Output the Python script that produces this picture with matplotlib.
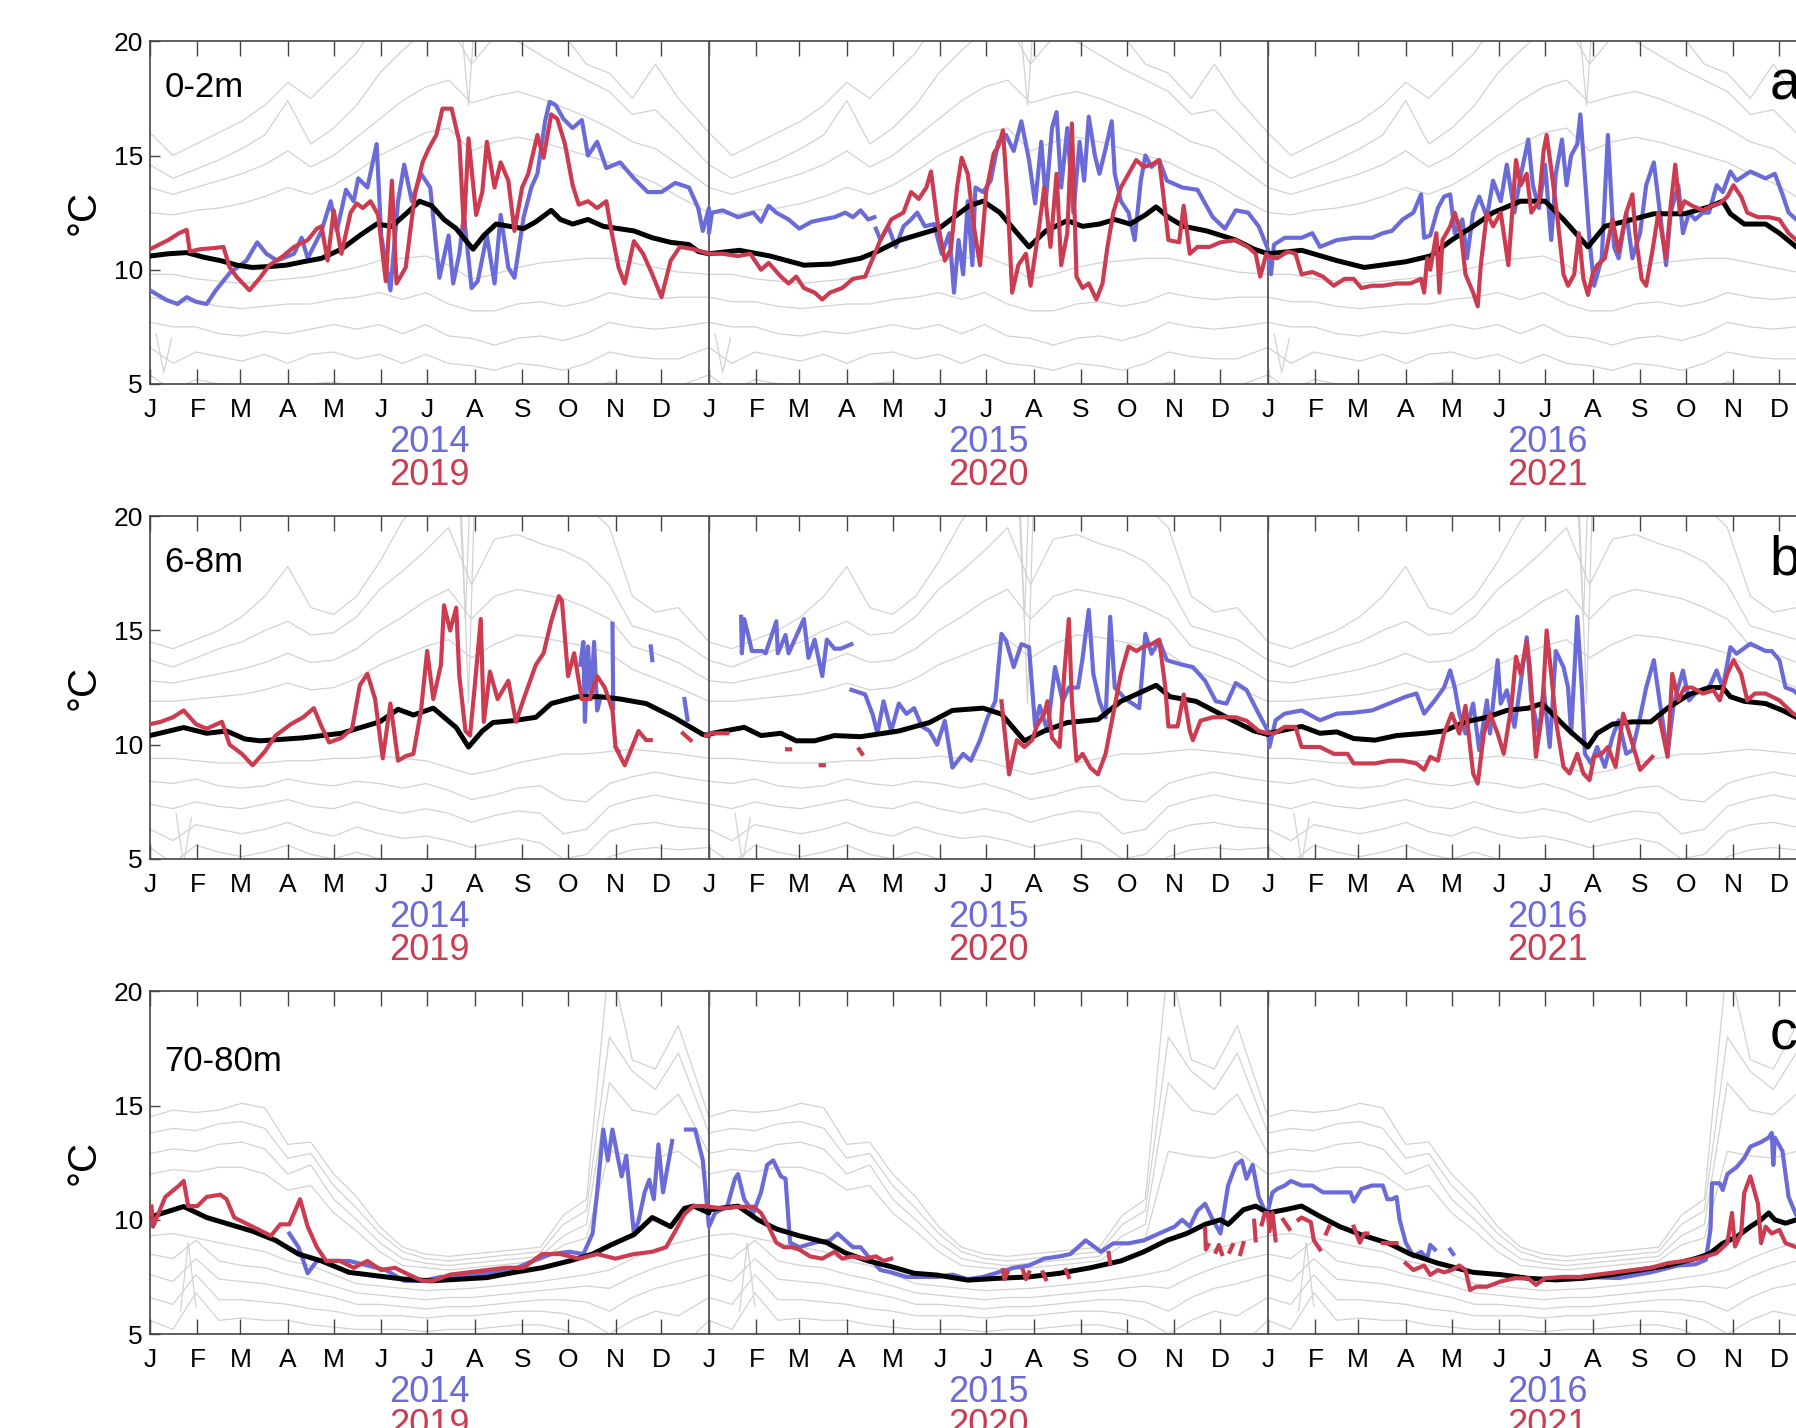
"""
Daily temperature at three depths, 2014-2016 (blue) and 2019-2021 (red)
against the climatological envelope (grey) and the mean (black).
"""

import numpy as np
import matplotlib
matplotlib.use('Agg')
from matplotlib import pyplot as plt

plt.rcParams['font.family'] = ['Liberation Sans', 'DejaVu Sans']

# ---------------------------------------------------------------- data
MONTH_START = [0, 31, 59, 90, 120, 151, 181, 212, 243, 273, 304, 334]
MONTH_LETTERS = ['J', 'F', 'M', 'A', 'M', 'J', 'J', 'A', 'S', 'O', 'N', 'D']
BLUE_YEARS = ['2014', '2015', '2016']
RED_YEARS = ['2019', '2020', '2021']
DEPTHS = ['0-2m', '6-8m', '70-80m']
PANEL_LETTERS = ['a', 'b', 'c']

# climatological envelope lines (same every year), sampled on GRAY_DAYS
GRAY_DAYS = [0, 15, 30, 45, 60, 75, 90, 105, 120, 135, 150, 165, 180, 195,
             210, 225, 240, 255, 270, 285, 300, 315, 330, 345, 365]

A_GRAY = [
    [16.0, 15.0, 15.5, 16.0, 16.5, 17.2, 18.2, 17.5, 18.5, 19.5, 21, 21, 21, 21,
     21, 21, 21, 21, 20.3, 19.0, 18.6, 17.5, 19.0, 17.5, 16.0],
    [14.6, 14.0, 14.4, 14.8, 15.3, 15.9, 17.4, 15.5, 16.2, 17.2, 18.6, 19.6, 20.5, 20.8,
     19.0, 20.2, 20.0, 19.4, 18.8, 18.3, 17.8, 16.8, 17.0, 16.0, 14.6],
    [13.6, 13.3, 13.6, 13.9, 14.2, 14.6, 15.2, 14.5, 15.0, 15.8, 16.6, 17.4, 18.0, 18.3,
     17.3, 17.6, 17.8, 17.5, 17.1, 16.7, 16.2, 15.6, 15.3, 14.6, 13.6],
    [12.5, 12.4, 12.6, 12.7, 12.9, 13.2, 13.6, 13.3, 13.7, 14.3, 15.0, 15.5, 16.0, 16.2,
     15.2, 15.6, 15.8, 15.6, 15.3, 15.0, 14.7, 14.2, 13.8, 13.2, 12.5],
    [9.8, 9.8, 9.6, 9.5, 9.4, 9.5, 9.6, 9.7, 9.9, 10.1, 10.4, 10.5, 10.6, 10.2,
     9.6, 9.8, 10.1, 10.3, 10.4, 10.5, 10.5, 10.3, 10.1, 9.9, 9.8],
    [8.8, 8.6, 8.6, 8.4, 8.3, 8.4, 8.5, 8.5, 8.7, 8.8, 9.0, 8.7, 9.0, 8.5,
     8.2, 8.2, 8.5, 8.6, 8.4, 8.6, 9.0, 8.8, 8.7, 8.8, 8.8],
    [7.7, 7.5, 7.5, 7.2, 7.1, 7.3, 7.2, 7.4, 7.6, 7.4, 7.6, 7.2, 7.6, 7.1,
     7.0, 6.7, 7.0, 7.1, 6.9, 7.2, 7.7, 7.5, 7.4, 7.5, 7.7],
    [6.6, 5.9, 6.4, 6.2, 6.0, 6.3, 5.9, 6.3, 6.4, 6.1, 6.3, 5.9, 6.3, 5.9,
     5.8, 5.6, 5.9, 5.8, 5.6, 5.9, 6.4, 6.2, 6.1, 6.1, 6.6],
    [5.4, 4.7, 5.2, 5.0, 4.8, 5.0, 4.6, 5.0, 5.1, 4.8, 4.9, 4.5, 4.9, 4.6,
     4.5, 4.2, 4.5, 4.4, 4.3, 4.6, 5.1, 4.9, 4.8, 4.9, 5.4],
]
A_SPIKES = [[(203, 21), (208, 17.2), (212, 21)], [(4, 7.2), (9, 5.5), (14, 7.0)]]

B_GRAY = [
    [14.5, 14.2, 14.6, 15.0, 15.6, 16.5, 17.8, 16.0, 15.7, 16.5, 18.0, 19.8, 21, 21,
     21, 21, 21, 21, 21, 20.5, 19.5, 16.5, 15.8, 16.0, 14.5],
    [13.7, 13.4, 13.8, 14.2, 14.5, 15.0, 15.4, 14.8, 14.9, 15.6, 16.8, 17.6, 18.5, 19.5,
     17.0, 19.0, 19.2, 18.8, 18.5, 18.0, 17.0, 15.2, 14.9, 14.6, 13.7],
    [12.8, 12.7, 12.9, 13.1, 13.3, 13.6, 14.0, 13.6, 13.7, 14.2, 15.0, 15.6, 16.3, 16.8,
     15.5, 16.5, 16.8, 16.6, 16.4, 16.0, 15.5, 14.3, 14.0, 13.6, 12.8],
    [11.9, 11.9, 12.0, 12.1, 12.2, 12.4, 12.7, 12.4, 12.5, 12.9, 13.5, 13.9, 14.3, 14.6,
     13.8, 14.4, 14.8, 14.7, 14.5, 14.3, 14.0, 13.3, 12.9, 12.5, 11.9],
    [9.4, 9.4, 9.3, 9.2, 9.2, 9.2, 9.3, 9.3, 9.4, 9.4, 9.5, 9.4, 9.3, 9.0,
     8.7, 8.9, 9.2, 9.4, 9.6, 9.6, 9.7, 9.8, 9.7, 9.6, 9.4],
    [8.4, 8.3, 8.5, 8.2, 8.1, 8.2, 8.5, 8.3, 8.2, 8.4, 8.3, 8.1, 8.3, 8.0,
     7.6, 7.8, 8.1, 8.2, 7.6, 7.5, 8.3, 8.6, 8.8, 8.6, 8.4],
    [7.4, 7.2, 7.5, 7.3, 7.2, 7.4, 7.6, 7.3, 7.2, 7.5, 7.2, 7.0, 7.2, 7.0,
     6.6, 6.9, 7.1, 7.0, 6.1, 6.3, 7.3, 7.6, 7.8, 7.6, 7.4],
    [6.3, 5.8, 6.5, 6.3, 6.1, 6.3, 6.6, 6.2, 6.0, 6.4, 6.1, 5.9, 6.0, 5.8,
     5.5, 5.7, 5.9, 5.7, 5.0, 5.2, 6.2, 6.5, 6.6, 6.4, 6.3],
    [5.5, 4.8, 5.6, 5.3, 5.1, 5.3, 5.6, 5.2, 5.0, 5.3, 5.0, 4.8, 4.9, 4.7,
     4.5, 4.6, 4.8, 4.6, 4.2, 4.3, 5.1, 5.4, 5.5, 5.4, 5.5],
]
B_SPIKES = [[(203, 21), (208, 11.8), (212, 21)], [(202, 21), (206, 15.5), (209, 21)],
            [(17, 7.0), (22, 4.8), (27, 6.8)]]

C_GRAY = [
    [14.5, 14.8, 14.7, 14.8, 15.1, 14.9, 13.3, 13.4, 12.0, 11.0, 9.7, 8.8, 8.5, 8.4,
     8.5, 8.6, 8.7, 8.8, 10.2, 10.9, 21.5, 17.0, 16.6, 18.5, 14.5],
    [13.8, 14.0, 13.9, 14.2, 14.3, 14.0, 12.7, 12.9, 11.5, 10.5, 9.4, 8.6, 8.3, 8.2,
     8.3, 8.4, 8.5, 8.6, 9.8, 10.4, 18.0, 16.5, 15.7, 17.3, 13.8],
    [12.9, 13.1, 13.0, 13.3, 13.4, 13.1, 12.0, 12.4, 10.9, 10.0, 9.0, 8.3, 8.1, 8.0,
     8.1, 8.2, 8.3, 8.4, 9.3, 9.8, 16.0, 14.8, 14.6, 15.5, 12.9],
    [12.0, 12.2, 12.1, 12.3, 12.3, 12.0, 11.3, 11.5, 10.3, 9.5, 8.6, 8.0, 7.9, 7.8,
     7.9, 8.0, 8.1, 8.2, 8.9, 9.2, 13.0, 12.8, 12.7, 13.0, 12.0],
    [9.3, 9.4, 9.2, 9.0, 8.8, 8.6, 8.2, 8.0, 7.6, 7.2, 7.1, 7.0, 6.9, 6.95,
     7.0, 7.1, 7.2, 7.3, 7.45, 7.6, 7.8, 8.3, 8.7, 9.0, 9.3],
    [8.5, 8.3, 9.1, 8.2, 8.0, 7.9, 7.6, 7.4, 7.1, 6.8, 6.7, 6.6, 6.5, 6.6,
     6.6, 6.7, 6.8, 6.9, 7.0, 7.1, 7.0, 7.5, 7.9, 8.2, 8.5],
    [7.6, 7.3, 8.3, 7.4, 7.3, 7.2, 7.0, 6.8, 6.6, 6.3, 6.3, 6.2, 6.1, 6.2,
     6.2, 6.3, 6.4, 6.5, 6.5, 6.4, 6.0, 6.6, 7.0, 7.2, 7.6],
    [6.6, 6.3, 7.6, 6.5, 6.5, 6.4, 6.3, 6.1, 6.0, 5.8, 5.8, 5.8, 5.7, 5.8,
     5.8, 5.9, 6.0, 6.0, 5.9, 5.6, 5.0, 5.6, 6.0, 5.8, 6.6],
    [5.6, 5.2, 6.8, 5.6, 5.7, 5.6, 5.6, 5.4, 5.3, 5.2, 5.2, 5.2, 5.1, 5.2,
     5.2, 5.3, 5.4, 5.4, 5.2, 4.8, 4.2, 4.6, 4.8, 4.3, 5.6],
]
C_SPIKES = [[(20, 6.0), (25, 9.0), (30, 6.2)]]

# observed series: (day of year, degC); None marks a gap in the record
# --- 0-2 m
A_BLUE_2014 = [(0, 9.1), (5, 8.9), (11, 8.67), (18, 8.5), (24, 8.8), (30, 8.6), (37, 8.5),
               (43, 9.1), (52, 9.85), (63, 10.4), (70, 11.2), (76, 10.7), (83, 10.4),
               (94, 10.7), (99, 11.4), (103, 10.5), (112, 11.7), (118, 13.0), (122, 11.7),
               (128, 13.5), (133, 13.0), (136, 14.0), (142, 13.6), (148, 15.5), (151, 11.5),
               (157, 9.1), (162, 13.0), (166, 14.6), (171, 13.0), (177, 14.2), (183, 13.6),
               (189, 9.65), (195, 11.5), (198, 9.4), (202, 10.7), (205, 12.4), (210, 9.2),
               (214, 9.5), (220, 11.5), (225, 9.4), (229, 12.4), (234, 10.1), (238, 9.65),
               (244, 12.3), (249, 13.6), (253, 14.2), (258, 16.5), (261, 17.35), (265, 17.2),
               (270, 16.6), (276, 16.2), (282, 16.55), (286, 15.0), (292, 15.6), (298, 14.45),
               (307, 14.7), (316, 14.0), (325, 13.4), (334, 13.4), (343, 13.8), (352, 13.6),
               (358, 12.7), (361, 11.7), (365, 12.7)]
A_BLUE_2015 = [(0, 11.6), (2, 12.5), (9, 12.6), (19, 12.3), (29, 12.5), (34, 12.1), (39, 12.8),
               (44, 12.5), (52, 12.2), (59, 11.8), (67, 12.1), (74, 12.2), (82, 12.3),
               (89, 12.5), (94, 12.3), (99, 12.6), (104, 12.2), (108, 12.3), None,
               (109, 11.8), (112, 11.3), (117, 11.9), (122, 11.0), (127, 11.9), (132, 12.2),
               (136, 12.5), (141, 11.9), (147, 12.0), (152, 10.7), (157, 11.6), (160, 9.0),
               (163, 11.3), (166, 9.8), (169, 13.0), (172, 10.2), (174, 13.6), (179, 13.4),
               (184, 13.9), (189, 15.6), (194, 15.9), (199, 15.2), (204, 16.5), (209, 14.8),
               (213, 12.9), (217, 15.6), (220, 13.0), (224, 16.2), (227, 16.9), (230, 13.6),
               (234, 16.2), (238, 12.5), (242, 15.6), (245, 13.9), (248, 16.7), (252, 15.0),
               (255, 14.2), (259, 15.3), (263, 16.5), (265, 14.2), (269, 13.0), (274, 12.5),
               (278, 11.3), (282, 13.9), (285, 15.0), (289, 14.5), (294, 14.8), (299, 13.9),
               (309, 13.6), (319, 13.5), (329, 12.3), (337, 11.8), (344, 12.6), (352, 12.5),
               (359, 11.9), (365, 10.9)]
A_BLUE_2016 = [(2, 9.8), (4, 11.1), (11, 11.4), (22, 11.4), (29, 11.6), (34, 11.0), (45, 11.3),
               (56, 11.4), (68, 11.4), (75, 11.6), (81, 11.7), (88, 12.2), (95, 12.5),
               (100, 13.3), (102, 11.4), (106, 11.5), (111, 12.7), (115, 13.2), (119, 13.3),
               (122, 11.6), (127, 12.2), (130, 10.5), (134, 12.5), (138, 13.2), (143, 12.3),
               (147, 13.9), (152, 13.0), (156, 14.6), (161, 12.5), (165, 14.1), (170, 15.7),
               (173, 13.7), (177, 12.7), (181, 14.6), (185, 11.3), (188, 14.2), (192, 15.7),
               (195, 13.7), (198, 15.0), (202, 15.5), (204, 16.8), (206, 15.0), (210, 11.3),
               (213, 9.3), (218, 10.5), (222, 15.9), (226, 11.0), (229, 10.5), (234, 12.5),
               (238, 10.5), (243, 11.6), (247, 13.7), (252, 14.7), (256, 12.5), (260, 10.2),
               (263, 12.5), (268, 13.7), (271, 11.6), (275, 12.5), (279, 12.2), (284, 12.5),
               (288, 12.5), (293, 13.7), (297, 13.4), (302, 14.3), (306, 13.9), (315, 14.3),
               (325, 14.0), (331, 14.2), (336, 13.3), (340, 12.5), (345, 12.2), (365, 12.0)]
A_RED_2019 = [(0, 10.9), (6, 11.1), (12, 11.3), (19, 11.6), (24, 11.75), (26, 10.8), (33, 10.9),
              (42, 10.95), (48, 11.0), (52, 10.1), (57, 9.66), (65, 9.1), (72, 9.66),
              (78, 10.2), (87, 10.6), (94, 11.0), (103, 11.3), (109, 11.8), (112, 11.9),
              (116, 10.4), (120, 12.6), (125, 10.7), (131, 12.5), (135, 12.9), (139, 12.7),
              (144, 13.0), (149, 12.4), (154, 9.5), (158, 13.9), (161, 9.4), (167, 10.1),
              (173, 13.3), (178, 14.7), (182, 15.3), (187, 15.9), (191, 17.05), (197, 17.05),
              (202, 15.6), (205, 11.8), (208, 15.75), (213, 12.4), (217, 13.4), (220, 15.6),
              (225, 13.6), (229, 14.7), (234, 13.9), (238, 11.7), (243, 13.6), (247, 14.2),
              (253, 15.9), (257, 14.9), (262, 16.8), (266, 16.6), (271, 15.5), (276, 13.7),
              (280, 12.85), (286, 13.0), (292, 12.7), (298, 13.0), (301, 11.8), (306, 10.1),
              (310, 9.4), (316, 11.25), (322, 10.7), (328, 9.8), (334, 8.8), (340, 10.4),
              (346, 11.0), (355, 10.9), (365, 10.7)]
A_RED_2020 = [(0, 10.7), (9, 10.7), (19, 10.6), (27, 10.7), (34, 10.0), (39, 10.3), (47, 9.7),
              (52, 9.4), (57, 9.7), (62, 9.2), (69, 9.0), (74, 8.7), (79, 9.0), (87, 9.2),
              (94, 9.6), (102, 9.7), (107, 10.5), (112, 11.3), (119, 12.2), (127, 12.5),
              (132, 13.4), (137, 13.1), (142, 13.6), (145, 14.3), (149, 12.2), (154, 10.4),
              (158, 10.9), (162, 13.6), (165, 14.9), (169, 14.2), (173, 11.9), (177, 10.2),
              (181, 13.4), (186, 15.1), (189, 15.4), (192, 16.1), (195, 13.1), (198, 9.0),
              (202, 10.2), (207, 10.7), (210, 9.3), (215, 11.6), (219, 13.6), (223, 11.0),
              (227, 14.2), (230, 10.2), (234, 11.6), (237, 16.4), (240, 9.7), (244, 9.2),
              (248, 9.4), (253, 8.7), (257, 9.4), (260, 10.9), (264, 12.5), (269, 13.6),
              (274, 14.2), (279, 14.8), (284, 14.5), (289, 14.6), (294, 14.8), (297, 13.1),
              (300, 11.3), (307, 11.2), (310, 12.8), (314, 10.7), (319, 11.0), (327, 11.0),
              (334, 11.2), (344, 11.3), (352, 11.0), (357, 10.7), (360, 9.7), (364, 10.7),
              (365, 10.6)]
A_RED_2021 = [(0, 10.6), (6, 10.5), (13, 10.8), (18, 10.7), (22, 9.8), (29, 9.9), (36, 9.7),
              (43, 9.3), (50, 9.6), (56, 9.6), (61, 9.2), (68, 9.3), (75, 9.3), (84, 9.4),
              (93, 9.4), (100, 9.6), (102, 9.0), (104, 10.5), (106, 10.0), (110, 11.6),
              (112, 9.0), (114, 11.3), (119, 11.9), (122, 12.5), (126, 11.6), (129, 9.8),
              (134, 9.0), (137, 8.4), (139, 10.2), (143, 12.5), (147, 11.9), (152, 12.5),
              (157, 10.2), (162, 14.8), (165, 13.7), (169, 14.2), (172, 12.5), (177, 13.0),
              (180, 15.2), (182, 15.9), (186, 13.9), (189, 12.3), (193, 9.8), (196, 9.3),
              (200, 9.8), (203, 11.6), (206, 9.6), (209, 8.9), (212, 9.8), (215, 10.2),
              (220, 10.5), (225, 12.2), (229, 10.8), (234, 12.5), (238, 13.3), (240, 11.6),
              (244, 9.6), (247, 9.3), (251, 10.8), (255, 12.5), (260, 10.5), (263, 12.8),
              (266, 14.6), (269, 12.5), (272, 13.0), (277, 12.8), (284, 12.6), (290, 12.8),
              (295, 12.9), (300, 13.2), (304, 13.7), (309, 13.2), (313, 12.5), (320, 12.3),
              (327, 12.3), (334, 12.2), (340, 11.6), (345, 11.3), (365, 11.0)]
A_MEAN_1 = [(0, 10.6), (12, 10.7), (24, 10.75), (35, 10.55), (46, 10.4), (57, 10.2), (67, 10.1),
            (80, 10.15), (89, 10.2), (100, 10.35), (112, 10.5), (125, 10.9), (137, 11.5),
            (148, 12.0), (158, 11.9), (168, 12.5), (176, 13.0), (184, 12.8), (192, 12.2),
            (200, 11.8), (206, 11.3), (211, 10.9), (218, 11.5), (226, 12.0), (235, 11.9),
            (244, 11.8), (252, 12.1), (262, 12.6), (268, 12.2), (276, 12.0), (286, 12.2),
            (296, 11.9), (306, 11.8), (316, 11.7), (328, 11.4), (340, 11.2), (352, 11.1),
            (358, 10.8), (365, 10.7)]
A_MEAN_2 = [(0, 10.7), (20, 10.85), (40, 10.6), (62, 10.2), (80, 10.25), (99, 10.5),
            (110, 10.8), (125, 11.3), (140, 11.6), (150, 11.8), (160, 12.3), (170, 12.8),
            (179, 13.0), (190, 12.5), (200, 11.7), (209, 11.0), (220, 11.7), (234, 12.15),
            (244, 11.9), (255, 12.0), (265, 12.2), (275, 12.0), (285, 12.4), (292, 12.75),
            (300, 12.3), (310, 11.9), (325, 11.7), (344, 11.3), (356, 10.9), (365, 10.7)]
A_MEAN_3 = [(0, 10.7), (22, 10.85), (45, 10.4), (63, 10.1), (90, 10.35), (106, 10.6),
            (120, 11.3), (134, 11.9), (147, 12.5), (165, 13.0), (181, 13.0), (193, 12.2),
            (209, 11.0), (220, 11.9), (238, 12.2), (252, 12.45), (272, 12.45), (288, 12.75),
            (297, 13.0), (302, 12.45), (311, 12.0), (325, 12.0), (334, 11.6), (345, 11.0),
            (365, 10.6)]

# --- 6-8 m
B_BLUE_2014 = [(281, 13.5), (283, 14.5), (284, 11.0), (286, 14.3), (288, 12.0), (290, 14.5),
               (292, 11.5), (294, 12.0), None, (302, 15.3), (302.5, 11.6), None,
               (304, 9.9), (306, 9.7), None, (327, 14.3), (328, 13.7), None,
               (349, 12.0), (351, 11.1), None]
B_BLUE_2015 = [None, (21, 15.6), (21.5, 14.0), (23, 15.5), (26, 14.7), (28, 14.1), (35, 14.1),
               (37, 14.0), (44, 15.4), (45, 14.0), (50, 14.8), (52, 14.0), (62, 15.5),
               (65, 13.8), (69, 14.6), (74, 13.0), (77, 14.6), (82, 14.2), (86, 14.2),
               (93, 14.4), None,
               (93, 12.4), (102, 12.2), (107, 11.3), (110, 10.5), (114, 11.9), (119, 10.6),
               (124, 11.8), (129, 11.35), (134, 11.6), (139, 10.8), (144, 10.6), (149, 10.0),
               (154, 11.05), (159, 9.0), (166, 9.6), (171, 9.3), (177, 10.2), (182, 11.2),
               (187, 11.9), (191, 14.85), (194, 14.56), (199, 13.4), (204, 14.4), (209, 14.27),
               (213, 10.8), (216, 11.7), (221, 10.6), (226, 13.4), (231, 11.9), (235, 12.5),
               (241, 12.5), (244, 13.8), (248, 15.9), (251, 13.1), (255, 11.9), (259, 11.2),
               (262, 15.6), (265, 12.5), (272, 12.0), (281, 11.6), (285, 14.85), (289, 13.98),
               (294, 14.56), (299, 13.7), (309, 13.5), (316, 13.4), (324, 12.8), (331, 11.9),
               (338, 11.8), (344, 12.7), (351, 12.4), (359, 11.35), (365, 10.6)]
B_BLUE_2016 = [(1, 9.9), (5, 11.07), (11, 11.36), (22, 11.5), (34, 11.07), (45, 11.36),
               (56, 11.4), (68, 11.5), (79, 11.8), (90, 12.1), (97, 12.24), (102, 11.36),
               (109, 11.94), (115, 12.5), (119, 13.25), (122, 12.5), (125, 11.36),
               (129, 10.49), (134, 11.8), (138, 9.76), (143, 11.94), (145, 10.49), (150, 13.7),
               (152, 11.8), (156, 12.38), (161, 10.78), (165, 12.67), (169, 14.7), (172, 11.94),
               (177, 10.49), (180, 12.5), (184, 9.9), (188, 14.1), (193, 13.4), (196, 12.5),
               (198, 10.49), (202, 15.6), (205, 12.5), (207, 9.6), (211, 9.18), (215, 9.9),
               (220, 9.03), (225, 10.34), (229, 11.07), (234, 9.6), (238, 9.76), (243, 11.2),
               (247, 12.5), (252, 13.7), (256, 11.8), (261, 9.6), (265, 11.8), (271, 13.25),
               (275, 11.94), (279, 12.24), (284, 12.38), (288, 12.5), (293, 13.25),
               (297, 12.5), (302, 14.27), (306, 13.98), (315, 14.42), (325, 14.1),
               (329, 14.1), (334, 13.7), (338, 12.5), (343, 12.38), (350, 12.0), (365, 11.2)]
B_RED_2019 = [(0, 10.9), (7, 11.0), (15, 11.2), (22, 11.5), (30, 10.9), (37, 10.7), (47, 11.0),
              (52, 10.0), (60, 9.6), (67, 9.1), (75, 9.7), (82, 10.4), (92, 10.9), (100, 11.2),
              (107, 11.6), (112, 10.8), (117, 10.1), (125, 10.3), (132, 10.7), (137, 12.6),
              (142, 13.1), (147, 12.0), (152, 9.4), (157, 11.8), (162, 9.3), (167, 9.5),
              (172, 9.6), (177, 11.5), (181, 14.1), (185, 12.0), (190, 13.5), (192, 16.1),
              (196, 15.0), (200, 16.0), (202, 13.0), (206, 10.6), (209, 10.4), (212, 12.5),
              (216, 15.5), (218, 11.0), (222, 13.2), (227, 12.0), (234, 12.8), (239, 11.0),
              (244, 12.0), (252, 13.5), (257, 14.0), (262, 15.4), (267, 16.5), (269, 16.3),
              (273, 13.0), (277, 14.0), (282, 12.0), (287, 12.0), (292, 13.0), (297, 12.5),
              (302, 11.5), (304, 9.9), (310, 9.1), (319, 10.6), (324, 10.2), (327, 10.2),
              None, (348, 10.5), (353, 10.2), None, (363, 10.4), (365, 10.4)]
B_RED_2020 = [(0, 10.5), (12, 10.5), None, (51, 9.8), (53, 9.8), None, (73, 9.1), (75, 9.1),
              None, (98, 9.8), (100, 9.6), None,
              (191, 11.9), (196, 8.7), (201, 10.2), (206, 9.9), (211, 10.2), (214, 10.8),
              (219, 11.35), (221, 11.9), (224, 10.3), (229, 9.9), (232, 13.1), (235, 15.5),
              (237, 11.9), (240, 9.3), (244, 9.6), (249, 9.0), (254, 8.7), (259, 9.6),
              (264, 11.35), (269, 13.1), (274, 14.3), (279, 14.1), (284, 14.3), (289, 14.4),
              (294, 14.6), (298, 12.5), (300, 10.8), (306, 10.8), (310, 12.2), (314, 10.6),
              (316, 10.2), (321, 11.05), (329, 11.2), (336, 11.2), (344, 11.2), (351, 11.05),
              (359, 10.6), (365, 10.5)]
B_RED_2021 = [(0, 10.5), (4, 10.49), (11, 10.78), (18, 10.78), (22, 9.9), (29, 9.9), (34, 9.9),
              (43, 9.6), (52, 9.6), (56, 9.18), (63, 9.18), (70, 9.18), (79, 9.3), (88, 9.3),
              (97, 9.18), (102, 8.9), (106, 9.47), (111, 9.3), (115, 10.49), (120, 11.36),
              (125, 10.49), (129, 11.7), (134, 8.74), (137, 8.3), (141, 10.49), (145, 11.36),
              (150, 10.49), (154, 9.6), (159, 11.7), (162, 13.85), (165, 13.1), (169, 14.5),
              (171, 13.4), (175, 9.47), (179, 11.36), (182, 15.0), (185, 13.1), (188, 11.07),
              (193, 9.03), (197, 8.74), (202, 9.6), (206, 8.74), (210, 8.45), (213, 9.47),
              (218, 9.6), (222, 9.9), (227, 9.03), (232, 11.36), (236, 10.49), (240, 9.6),
              (243, 8.9), (247, 9.18), (251, 9.47), None, (256, 11.07), (261, 9.47),
              (264, 13.1), (268, 11.94), (272, 12.5), (277, 12.5), (284, 12.24), (291, 12.38),
              (295, 11.94), (300, 13.1), (304, 13.7), (309, 13.1), (313, 11.94), (318, 12.24),
              (325, 12.24), (334, 11.94), (343, 11.36), (355, 11.0), (365, 10.8)]
B_MEAN_1 = [(0, 10.4), (22, 10.75), (37, 10.5), (50, 10.6), (62, 10.25), (72, 10.17),
            (100, 10.3), (125, 10.5), (150, 11.0), (162, 11.55), (172, 11.3), (185, 11.6),
            (200, 10.75), (208, 9.9), (217, 10.6), (224, 10.97), (237, 11.05), (252, 11.2),
            (262, 11.8), (279, 12.1), (294, 12.1), (307, 12.0), (324, 11.8), (342, 11.2),
            (361, 10.45), (365, 10.4)]
B_MEAN_2 = [(0, 10.47), (23, 10.76), (34, 10.4), (47, 10.5), (57, 10.17), (69, 10.17),
            (82, 10.4), (99, 10.35), (124, 10.6), (144, 10.97), (159, 11.5), (179, 11.6),
            (191, 11.34), (206, 10.17), (219, 10.6), (234, 10.97), (254, 11.1), (269, 11.9),
            (292, 12.6), (301, 12.1), (318, 11.9), (338, 11.2), (356, 10.6), (365, 10.45)]
B_MEAN_3 = [(0, 10.49), (22, 10.8), (34, 10.5), (45, 10.56), (56, 10.27), (70, 10.2),
            (84, 10.4), (102, 10.5), (115, 10.6), (129, 11.0), (143, 11.2), (156, 11.5),
            (170, 11.6), (179, 11.8), (188, 11.2), (197, 10.6), (209, 9.9), (215, 10.5),
            (225, 10.9), (238, 11.0), (250, 11.0), (261, 11.6), (275, 12.2), (288, 12.5),
            (297, 12.5), (302, 12.1), (311, 11.9), (325, 11.8), (336, 11.5), (345, 11.2),
            (365, 10.6)]

# --- 70-80 m
C_BLUE_2014 = [(91, 9.4), (97, 8.8), (103, 7.66), (109, 8.2), (118, 8.2), (130, 8.2),
               (142, 8.0), (154, 7.8), (166, 7.33), (178, 7.33), (190, 7.5), (202, 7.5),
               (214, 7.6), (226, 7.7), (238, 7.85), (250, 8.2), (262, 8.5), (274, 8.6),
               (283, 8.5), (289, 9.4), (292, 11.2), (296, 13.95), (299, 12.6), (302, 13.95),
               (305, 12.9), (308, 11.9), (311, 12.8), (316, 9.4), (319, 9.95), (323, 11.2),
               (326, 11.75), (329, 10.9), (332, 13.3), (335, 11.2), (341, 13.45), None,
               (350, 13.95), (356, 13.95), (361, 12.6), (365, 9.7)]
C_BLUE_2015 = [(0, 9.7), (4, 10.3), (12, 10.6), (17, 11.8), (19, 12.0), (23, 10.9), (29, 10.3),
               (34, 11.2), (38, 12.4), (42, 12.6), (47, 11.9), (50, 11.8), (53, 9.0),
               (59, 8.8), (69, 9.0), (79, 9.1), (84, 9.4), (89, 9.1), (94, 8.8), (99, 8.8),
               (104, 8.4), (112, 7.8), (119, 7.7), (129, 7.5), (139, 7.5), (149, 7.5),
               (159, 7.6), (169, 7.4), (179, 7.5), (189, 7.7), (199, 7.9), (209, 8.0),
               (219, 8.3), (229, 8.4), (236, 8.5), (241, 8.8), (246, 9.1), (252, 8.8),
               (256, 8.6), (264, 8.97), (274, 8.97), (284, 9.1), (294, 9.4), (304, 9.7),
               (309, 10.0), (314, 9.7), (319, 10.4), (324, 10.7), (329, 10.0), (334, 9.4),
               (339, 11.5), (344, 12.4), (348, 12.6), (351, 11.8), (355, 12.4), (359, 11.0),
               (363, 10.4), (365, 10.4)]
C_BLUE_2016 = [(0, 10.4), (3, 11.2), (6, 11.35), (11, 11.5), (15, 11.7), (22, 11.5), (29, 11.5),
               (36, 11.2), (45, 11.2), (54, 11.2), (56, 10.8), (61, 11.35), (68, 11.5),
               (75, 11.5), (78, 10.9), (81, 10.9), (84, 11.0), (86, 10.0), (90, 9.0), (95, 8.4),
               (100, 8.6), (104, 8.3), (106, 8.9), (109, 8.7), None, (119, 8.7), (121, 8.5),
               None, (206, 7.5), (229, 7.45), (250, 7.7), (268, 8.0), (279, 8.05),
               (286, 8.25), (289, 9.6), (290, 11.6), (295, 11.6), (297, 11.3), (300, 12.0),
               (306, 12.3), (311, 12.7), (315, 13.2), (322, 13.4), (327, 13.6), (329, 13.8),
               (330, 12.4), (331, 13.6), (336, 13.0), (340, 11.0), (345, 10.2), (365, 10.0)]
C_RED_2019 = [(1, 10.58), (2, 9.7), (10, 11.0), (19, 11.5), (22, 11.7), (25, 10.6), (31, 10.6),
              (37, 11.0), (46, 11.1), (50, 10.9), (55, 10.1), (64, 9.8), (73, 9.5), (79, 9.3),
              (85, 9.8), (91, 9.8), (98, 10.9), (103, 9.7), (109, 8.8), (115, 8.2),
              (124, 8.2), (133, 7.9), (142, 8.2), (151, 7.8), (160, 7.9), (169, 7.6),
              (178, 7.33), (185, 7.33), (196, 7.6), (208, 7.7), (220, 7.8), (232, 7.9),
              (244, 7.9), (256, 8.5), (268, 8.5), (280, 8.3), (292, 8.5), (304, 8.3),
              (316, 8.5), (328, 8.6), (337, 8.8), (343, 9.5), (349, 10.25), (355, 10.6),
              (365, 10.6)]
C_RED_2020 = [(0, 10.57), (9, 10.5), (19, 10.57), (29, 10.57), (34, 10.3), (39, 9.7),
              (44, 9.0), (49, 8.8), (54, 8.8), (59, 8.7), (66, 8.4), (74, 8.3), (82, 8.6),
              (87, 8.3), (94, 8.4), (102, 8.3), (109, 8.4), (114, 8.2), (119, 8.3), None,
              (192, 7.8), (193, 7.4), (195, 7.7), None, (205, 7.8), (207, 7.4), (209, 7.7),
              None, (218, 7.7), (220, 7.4), None, (233, 7.8), (235, 7.5), None,
              (261, 8.55), (262, 8.1), None, (324, 9.6), (324.5, 8.7), (326, 8.9), None,
              (331, 8.6), (333, 8.9), (335, 8.5), None, (340, 8.6), (342, 8.9), None,
              (347, 8.5), (349, 8.98), None, (356, 9.96), (357, 9.1), None,
              (361, 9.8), (363, 10.3), (365, 10.3)]
C_RED_2021 = [(0, 10.3), (1, 9.5), (3, 10.3), (5, 9.1), None, (10, 10.0), (14, 9.6), None,
              (20, 10.0), (22, 10.1), (28, 9.9), (30, 9.1), (34, 8.7), None, (38, 9.4),
              (40, 9.7), None, (56, 9.7), (60, 9.0), (63, 9.4), (65, 9.4), None,
              (75, 8.98), (84, 8.98), None, (90, 8.1), (95, 7.8), (102, 8.0), (106, 7.59),
              (111, 7.8), (115, 7.7), (120, 7.8), (125, 8.0), (129, 7.8), (132, 6.93),
              (136, 7.07), (143, 7.07), (152, 7.3), (161, 7.44), (170, 7.44), (175, 7.15),
              (181, 7.44), (193, 7.5), (204, 7.5), (215, 7.6), (227, 7.7), (238, 7.8),
              (250, 7.9), (261, 8.1), (272, 8.2), (284, 8.35), (293, 8.54), (300, 8.98),
              (303, 10.3), (305, 8.83), (309, 9.4), (311, 11.17), (315, 11.9), (318, 11.17),
              (320, 10.7), (322, 8.98), (325, 9.7), (329, 9.4), (334, 9.56), (338, 8.98),
              (345, 8.8), (365, 9.0)]
C_MEAN_1 = [(1, 10.14), (22, 10.58), (37, 10.1), (52, 9.8), (67, 9.5), (82, 9.1), (97, 8.5),
            (112, 8.2), (130, 7.7), (148, 7.55), (166, 7.4), (184, 7.33), (202, 7.4),
            (220, 7.47), (238, 7.7), (256, 7.9), (274, 8.2), (289, 8.5), (301, 8.9),
            (316, 9.35), (328, 10.1), (334, 9.9), (340, 9.7), (349, 10.5), (355, 10.6),
            (365, 10.3)]
C_MEAN_2 = [(0, 10.44), (19, 10.6), (32, 10.0), (44, 9.6), (59, 9.3), (77, 9.0), (89, 8.55),
            (104, 8.2), (119, 7.95), (134, 7.66), (149, 7.58), (169, 7.36), (189, 7.44),
            (209, 7.5), (229, 7.66), (249, 7.9), (269, 8.2), (284, 8.6), (299, 9.1),
            (312, 9.4), (324, 9.8), (334, 10.0), (339, 9.8), (349, 10.44), (357, 10.6),
            (365, 10.3)]
C_MEAN_3 = [(0, 10.3), (11, 10.44), (22, 10.6), (34, 10.15), (47, 9.7), (61, 9.34),
            (79, 8.97), (93, 8.5), (111, 8.1), (134, 7.7), (152, 7.6), (170, 7.44),
            (188, 7.37), (206, 7.44), (225, 7.6), (243, 7.8), (261, 8.0), (279, 8.3),
            (288, 8.5), (297, 8.97), (306, 9.25), (315, 9.7), (322, 10.0), (327, 10.3),
            (331, 10.0), (338, 9.85), (345, 10.0), (365, 10.0)]

BLUE = '#6b6bd8'
RED = '#cc3c51'
GRAY = '#d2d2d2'


def stitch(years):
    """Lay three one-year records end to end on a common day axis."""
    days, temps = [], []
    for k, pts in enumerate(years):
        for p in pts:
            if p is None:
                days.append(np.nan)
                temps.append(np.nan)
            else:
                days.append(p[0] + 365 * k)
                temps.append(p[1])
    return np.array(days), np.array(temps)


def draw_panel(ax, gray, spikes, blue, red, mean, depth, letter, depth_y):
    # climatological envelope, repeated each year
    for k in range(3):
        for line in gray:
            ax.plot(np.array(GRAY_DAYS) + 365 * k, line, color=GRAY, lw=0.9,
                    zorder=1)
        for sp in spikes:
            ax.plot([d + 365 * k for d, _ in sp], [t for _, t in sp],
                    color=GRAY, lw=0.9, zorder=1)
    for k in (1, 2):
        ax.axvline(365 * k, color='#555555', lw=1.3, zorder=2)

    ax.plot(*stitch(blue), color=BLUE, lw=3.0, zorder=3)
    ax.plot(*stitch(mean), color='black', lw=3.6, zorder=4)
    ax.plot(*stitch(red), color=RED, lw=3.0, zorder=5)

    ax.set_xlim(0, 1095)
    ax.set_ylim(5, 20)
    ticks = [m + 365 * k for k in range(3) for m in MONTH_START]
    ax.set_xticks(ticks)
    ax.set_xticklabels(MONTH_LETTERS * 3)
    ax.set_yticks([5, 10, 15, 20])
    ax.tick_params(axis='x', direction='in', top=True, length=11, width=1,
                   color='#444444', labelsize=19, pad=10)
    ax.tick_params(axis='y', direction='in', length=7, width=1,
                   color='#444444', labelsize=19, pad=5)
    for s in ax.spines.values():
        s.set_color('#444444')
        s.set_linewidth(1.2)

    ax.set_ylabel('°C', fontsize=29, labelpad=8)
    ax.text(0.0085, depth_y, depth, transform=ax.transAxes, fontsize=25,
            va='center', ha='left')
    ax.text(0.966, 0.87, letter, transform=ax.transAxes, fontsize=40,
            va='center', ha='left')

    trans = ax.get_xaxis_transform()
    for k in range(3):
        mid = 182.5 + 365 * k
        ax.text(mid, -0.172, BLUE_YEARS[k], transform=trans, color=BLUE,
                fontsize=26, ha='center', va='center', clip_on=False)
        ax.text(mid, -0.268, RED_YEARS[k], transform=trans, color=RED,
                fontsize=26, ha='center', va='center', clip_on=False)


fig = plt.figure(figsize=(17.96, 14.28), dpi=100)
left, width, height = 0.0835, 0.9337, 0.2400
ax_a = fig.add_axes([left, 0.7311, width, height])
ax_b = fig.add_axes([left, 0.3985, width, height])
ax_c = fig.add_axes([left, 0.0658, width, height])

draw_panel(ax_a, A_GRAY, A_SPIKES, [A_BLUE_2014, A_BLUE_2015, A_BLUE_2016],
           [A_RED_2019, A_RED_2020, A_RED_2021],
           [A_MEAN_1, A_MEAN_2, A_MEAN_3], DEPTHS[0], PANEL_LETTERS[0], 0.865)
draw_panel(ax_b, B_GRAY, B_SPIKES, [B_BLUE_2014, B_BLUE_2015, B_BLUE_2016],
           [B_RED_2019, B_RED_2020, B_RED_2021],
           [B_MEAN_1, B_MEAN_2, B_MEAN_3], DEPTHS[1], PANEL_LETTERS[1], 0.865)
draw_panel(ax_c, C_GRAY, C_SPIKES, [C_BLUE_2014, C_BLUE_2015, C_BLUE_2016],
           [C_RED_2019, C_RED_2020, C_RED_2021],
           [C_MEAN_1, C_MEAN_2, C_MEAN_3], DEPTHS[2], PANEL_LETTERS[2], 0.795)

fig.savefig('out.png', dpi=100)
